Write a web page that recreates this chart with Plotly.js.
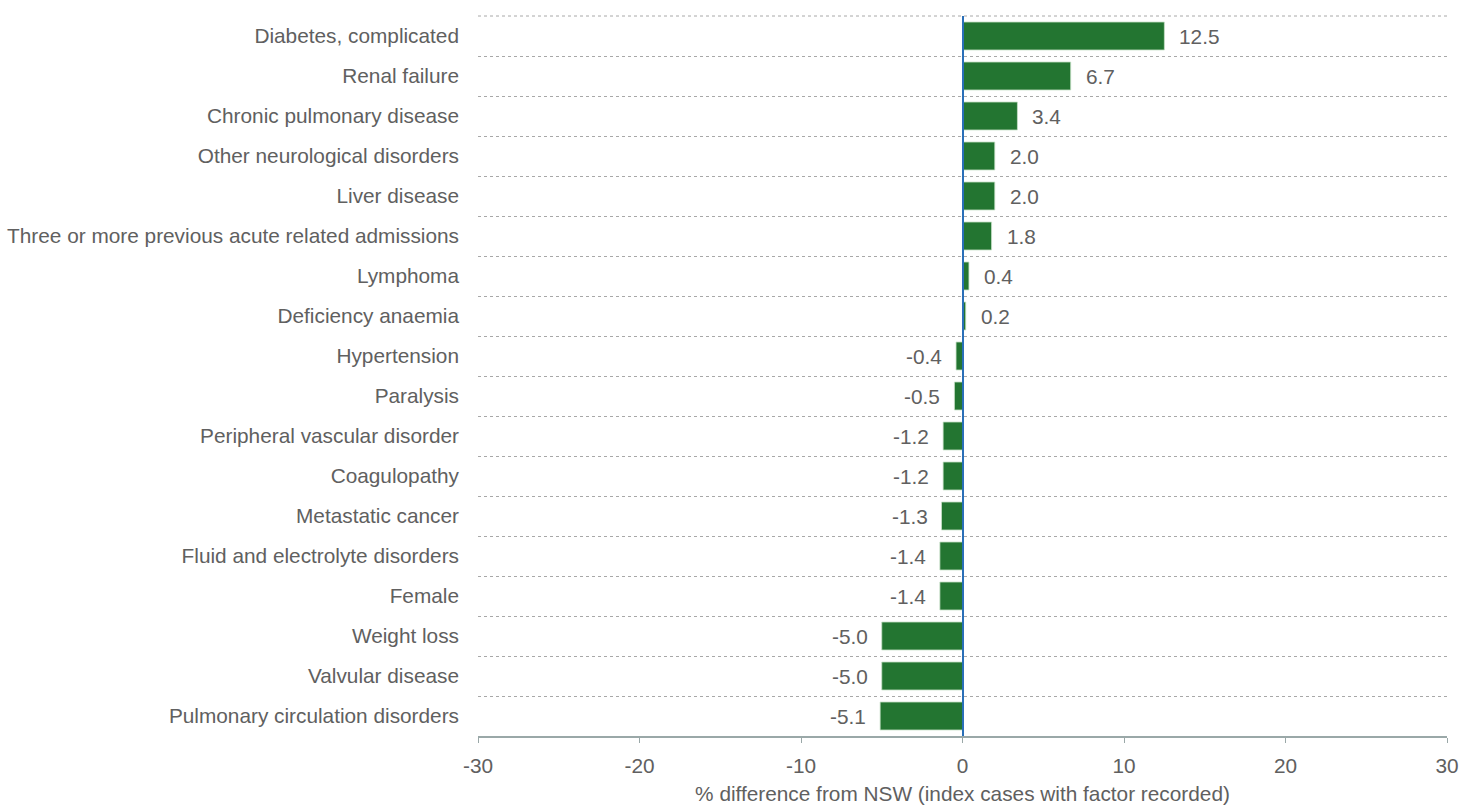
<!DOCTYPE html>
<html><head><meta charset="utf-8">
<script src="https://cdn.plot.ly/plotly-3.0.1.min.js"></script>
<style>html,body{margin:0;padding:0;background:#fff}#chart{width:1463px;height:805px}</style>
</head><body><div id="chart"></div>
<script>
const categories = [
  "Diabetes, complicated",
  "Renal failure",
  "Chronic pulmonary disease",
  "Other neurological disorders",
  "Liver disease",
  "Three or more previous acute related admissions",
  "Lymphoma",
  "Deficiency anaemia",
  "Hypertension",
  "Paralysis",
  "Peripheral vascular disorder",
  "Coagulopathy",
  "Metastatic cancer",
  "Fluid and electrolyte disorders",
  "Female",
  "Weight loss",
  "Valvular disease",
  "Pulmonary circulation disorders"
];
const values = [12.5, 6.7, 3.4, 2.0, 2.0, 1.8, 0.4, 0.2, -0.4, -0.5, -1.2, -1.2, -1.3, -1.4, -1.4, -5.0, -5.0, -5.1];
const xTickValues = [-30, -20, -10, 0, 10, 20, 30];
const xTickLabels = ["-30", "-20", "-10", "0", "10", "20", "30"];
const xTitle = "% difference from NSW (index cases with factor recorded)";

const FONT = "Liberation Sans, Arial, sans-serif";
const GREY = "#606060";
const FS = 20.8;

const trace = {
  type: "bar",
  orientation: "h",
  x: values,
  y: categories,
  width: 0.7,
  marker: {color: "#237531", line: {color: "rgba(200,225,200,0.8)", width: 1}},
  hoverinfo: "x+y"
};

const annotations = values.map((v, i) => ({
  x: v, y: categories[i], xref: "x", yref: "y",
  text: v.toFixed(1),
  showarrow: false,
  xanchor: v >= 0 ? "left" : "right",
  xshift: v >= 0 ? 13 : -12,
  font: {family: FONT, size: FS, color: GREY}
}));

const layout = {
  width: 1463, height: 805,
  margin: {l: 478, r: 16, t: 16, b: 69},
  paper_bgcolor: "#fff", plot_bgcolor: "#fff",
  showlegend: false,
  font: {family: FONT, size: FS, color: GREY},
  bargap: 0.3,
  xaxis: {
    range: [-30, 30],
    tickmode: "array", tickvals: xTickValues, ticktext: xTickLabels,
    ticks: "outside", ticklen: 5, tickcolor: "#9aa8a8", tickwidth: 1,
    showline: true, linecolor: "#9aa8a8", linewidth: 2,
    showgrid: false,
    zeroline: true, zerolinecolor: "#2a6fb8", zerolinewidth: 2,
    zerolinelayer: "above traces",
    layer: "above traces",
    ticklabelstandoff: 5,
    tickfont: {family: FONT, size: FS, color: GREY},
    title: {text: xTitle, font: {family: FONT, size: FS, color: GREY}, standoff: 12},
    fixedrange: true
  },
  yaxis: {
    type: "category",
    categoryorder: "array", categoryarray: categories,
    autorange: "reversed",
    tickson: "boundaries",
    ticks: "", showline: false,
    showgrid: true, gridcolor: "#a8a8a8", gridwidth: 1, griddash: "dot",
    ticklabelstandoff: 18,
    tickfont: {family: FONT, size: FS, color: GREY},
    fixedrange: true
  },
  shapes: [{
    type: "line", xref: "paper", yref: "paper", x0: 0, x1: 1, y0: 1, y1: 1,
    line: {color: "#a8a8a8", width: 1, dash: "dot"}, layer: "below"
  }],
  annotations: annotations
};

Plotly.newPlot("chart", [trace], layout, {displayModeBar: false, staticPlot: true});
</script>
</body></html>
